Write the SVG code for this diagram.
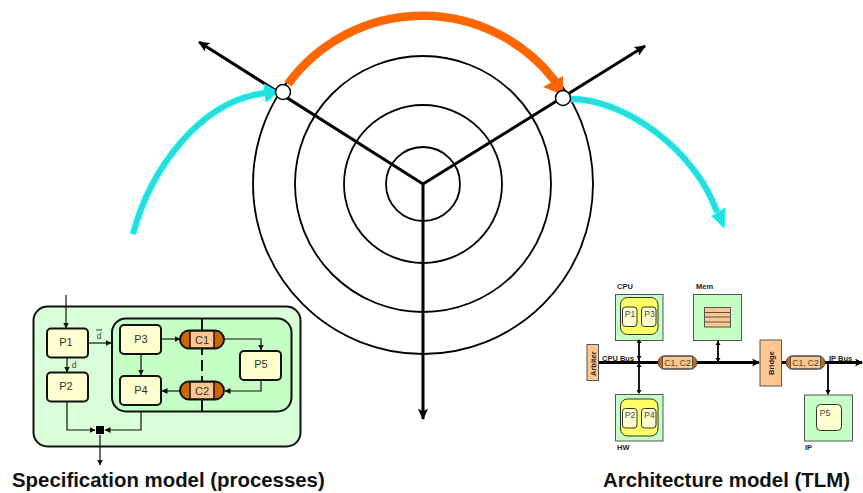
<svg xmlns="http://www.w3.org/2000/svg" width="863" height="493" viewBox="0 0 863 493">
<style>
text{font-family:"Liberation Sans",Arial,sans-serif;fill:#222}
.ring{fill:none;stroke:#000;stroke-width:1.8}
.axis{stroke:#000;stroke-width:3;fill:none}
.proc{fill:#ffffd0;stroke:#111;stroke-width:2}
.pl{font-size:11px;text-anchor:middle;fill:#333}
.th{stroke:#111;stroke-width:1.2;fill:none}
.pe{fill:#c6ffc6;stroke:#555;stroke-width:1}
.sm{fill:#ffffd0;stroke:#333;stroke-width:1}
.yel{fill:#ffff66;stroke:#333;stroke-width:1}
.t9{font-size:8.5px;text-anchor:middle;fill:#444}
.b8{font-size:7.5px;font-weight:bold;fill:#222}
.tan{fill:#ffc690;stroke:#555;stroke-width:1}
.cap{font-size:20.4px;font-weight:bold;fill:#111}
</style>
<defs>
<marker id="big" markerWidth="8" markerHeight="8" refX="7" refY="4" orient="auto" markerUnits="userSpaceOnUse"><path d="M0 0L8 4L0 8L2 4Z" fill="#000"/></marker>
<marker id="ax" markerWidth="11" markerHeight="10" refX="10" refY="5" orient="auto" markerUnits="userSpaceOnUse"><path d="M0 0L11 5L0 10L2 5Z" fill="#000"/></marker>
<marker id="sm" markerWidth="6" markerHeight="6" refX="5.5" refY="3" orient="auto" markerUnits="userSpaceOnUse"><path d="M0 0L6 3L0 6Z" fill="#111"/></marker>
<g id="chan"><rect x="-22" y="-9" width="44" height="18" rx="9" fill="#cc6600" stroke="#111" stroke-width="2"/><rect x="-12" y="-8.5" width="24" height="17" fill="#ffc690" stroke="#111" stroke-width="1.5"/></g>
<g id="chanS"><rect x="-19.5" y="-6.7" width="39" height="13.4" rx="6.7" fill="#cc6600" stroke="#555" stroke-width="1"/><rect x="-15" y="-6.2" width="30" height="12.4" fill="#ffc690" stroke="#555" stroke-width="1"/></g>
</defs>

<g id="connectors">
<circle class="ring" cx="423" cy="184" r="37"/>
<circle class="ring" cx="423" cy="184" r="79"/>
<circle class="ring" cx="423" cy="184" r="128"/>
<circle class="ring" cx="423" cy="184" r="170"/>
<path class="axis" d="M423 184L199 42" marker-end="url(#ax)"/>
<path class="axis" d="M423 184L645 46" marker-end="url(#ax)"/>
<path class="axis" d="M423 184V419" marker-end="url(#ax)"/>
<path d="M288 84A167 167 0 0 1 555 81" fill="none" stroke="#ff6600" stroke-width="8.5"/>
<path d="M543 87L563 76L563 95Z" fill="#ff6600"/>
<path d="M133 234C150 170 200 100 266 93" fill="none" stroke="#00ffff" stroke-width="6.5"/>
<path d="M133 234C150 170 200 100 266 93" fill="none" stroke="#30d8d8" stroke-width="4.5"/>
<path d="M264 84L278 92L266 102Z" fill="#20e0e0" stroke="#00ffff" stroke-width="1"/>
<path d="M571 99C625 99 695 150 717 212" fill="none" stroke="#00ffff" stroke-width="6.5"/>
<path d="M571 99C625 99 695 150 717 212" fill="none" stroke="#30d8d8" stroke-width="4.5"/>
<path d="M712 216L725 208L724 228Z" fill="#20e0e0" stroke="#00ffff" stroke-width="1"/>
</g>
<g id="point-left"><circle cx="283" cy="92" r="7.5" fill="#fff" stroke="#000" stroke-width="1.5"/></g>
<g id="point-right"><circle cx="563" cy="98" r="7.5" fill="#fff" stroke="#000" stroke-width="1.5"/></g>

<g id="specification-model">
<rect x="33.5" y="306.5" width="267" height="140" rx="14" fill="#d8ffd8" stroke="#111" stroke-width="2"/>
<rect x="112" y="318.5" width="179.500" height="93" rx="14" fill="#c6ffc6" stroke="#111" stroke-width="2"/>
<path d="M202 318.500V331M202 349V355M202 360V371M202 376V381M202 400V411.500" stroke="#111" stroke-width="2" fill="none"/>
<g class="th">
<path d="M66 295V328" marker-end="url(#sm)"/>
<path d="M67 357V372" marker-end="url(#sm)"/>
<path d="M88 343H111" marker-end="url(#sm)"/>
<path d="M161 339H180" marker-end="url(#sm)"/>
<path d="M141 354V375" marker-end="url(#sm)"/>
<path d="M224 339H261V350" marker-end="url(#sm)"/>
<path d="M261 380V391H225" marker-end="url(#sm)"/>
<path d="M180 391H162" marker-end="url(#sm)"/>
<path d="M67 401V430H95" marker-end="url(#sm)"/>
<path d="M141 412V430H105" marker-end="url(#sm)"/>
<path d="M100 435V465" marker-end="url(#sm)"/>
</g>
<rect x="96" y="426" width="8" height="8" fill="#000"/>
<rect class="proc" x="47" y="328.500" width="41" height="29" rx="4"/><text class="pl" x="66" y="346">P1</text>
<rect class="proc" x="47" y="372.500" width="41" height="29" rx="4"/><text class="pl" x="66" y="390">P2</text>
<rect class="proc" x="120" y="325" width="41" height="29" rx="4"/><text class="pl" x="141" y="343">P3</text>
<rect class="proc" x="120" y="376" width="41" height="29" rx="4"/><text class="pl" x="141" y="394">P4</text>
<rect class="proc" x="240" y="351" width="41" height="29" rx="4"/><text class="pl" x="261" y="368">P5</text>
<use href="#chan" x="202" y="339.500"/><text class="pl" x="202" y="343.500">C1</text>
<use href="#chan" x="202" y="390.500"/><text class="pl" x="202" y="394.500">C2</text>
<text class="t9" x="99" y="338.500">d</text><path d="M96 330H102" stroke="#333" stroke-width="1"/>
<text class="t9" x="74" y="368">d</text>
<text class="cap" x="12" y="487">Specification model (processes)</text>
</g>

<g id="architecture-model">
<rect class="pe" x="615.500" y="294.500" width="47.500" height="46"/>
<rect class="yel" x="620.500" y="297.500" width="37.500" height="37" rx="7"/>
<rect class="sm" x="622.500" y="307" width="14.500" height="19.500" rx="3"/><text class="t9" x="630" y="317">P1</text>
<rect class="sm" x="641.500" y="307" width="14.500" height="19.500" rx="3"/><text class="t9" x="649.500" y="317">P3</text>
<text class="b8" x="617" y="289">CPU</text>
<rect class="pe" x="693.500" y="294.500" width="48" height="46"/>
<rect class="tan" x="704.500" y="307.500" width="26" height="19.500"/>
<path d="M704.500 312.500H730.500M704.500 317H730.500M704.500 322H730.500" stroke="#555" stroke-width="1"/>
<text class="b8" x="696" y="289">Mem</text>
<rect class="pe" x="615.500" y="394.500" width="47.500" height="46.500"/>
<rect class="yel" x="620.500" y="399" width="37.500" height="37" rx="7"/>
<rect class="sm" x="622.500" y="408.500" width="14.500" height="19.500" rx="3"/><text class="t9" x="630" y="418">P2</text>
<rect class="sm" x="641.500" y="408.500" width="14.500" height="19.500" rx="3"/><text class="t9" x="649.500" y="418">P4</text>
<text class="b8" x="617" y="450">HW</text>
<rect class="pe" x="804.500" y="395" width="48" height="46"/>
<rect class="sm" x="816.500" y="404.500" width="25" height="26" rx="4"/><text class="t9" x="825" y="416">P5</text>
<text class="b8" x="805" y="450">IP</text>
<g stroke="#000" fill="none">
<path d="M598 362.500H759" stroke-width="3" marker-end="url(#big)"/>
<path d="M781 362.500H862" stroke-width="3" marker-end="url(#big)"/>
<path d="M639 340V393M718 341V362M828 362V394" stroke-width="1.800"/>
</g>
<path d="M636.500 343L639 339L641.500 343ZM636.500 356H641.500L639 360ZM636.500 367L639 363L641.500 367ZM636.500 390H641.500L639 394ZM715.500 345L718 341L720.500 345ZM715.500 358H720.500L718 362ZM825.500 390H830.500L828 395Z" fill="#000"/>
<rect class="tan" x="587" y="344.500" width="11.500" height="36"/>
<text class="b8" transform="translate(595.500 376) rotate(-90)" font-size="8">Arbiter</text>
<rect class="tan" x="760" y="340" width="21.500" height="46"/>
<text class="b8" transform="translate(773.500 375) rotate(-90)" font-size="8.500">Bridge</text>
<use href="#chanS" x="677.500" y="362.500"/><text class="t9" x="677.500" y="366">C1, C2</text>
<use href="#chanS" x="805.500" y="362.500"/><text class="t9" x="805.500" y="366">C1, C2</text>
<text class="b8" x="602" y="361">CPU Bus</text>
<text class="b8" x="829" y="361">IP Bus</text>
<text class="cap" x="603" y="487">Architecture model (TLM)</text>
</g>
</svg>
